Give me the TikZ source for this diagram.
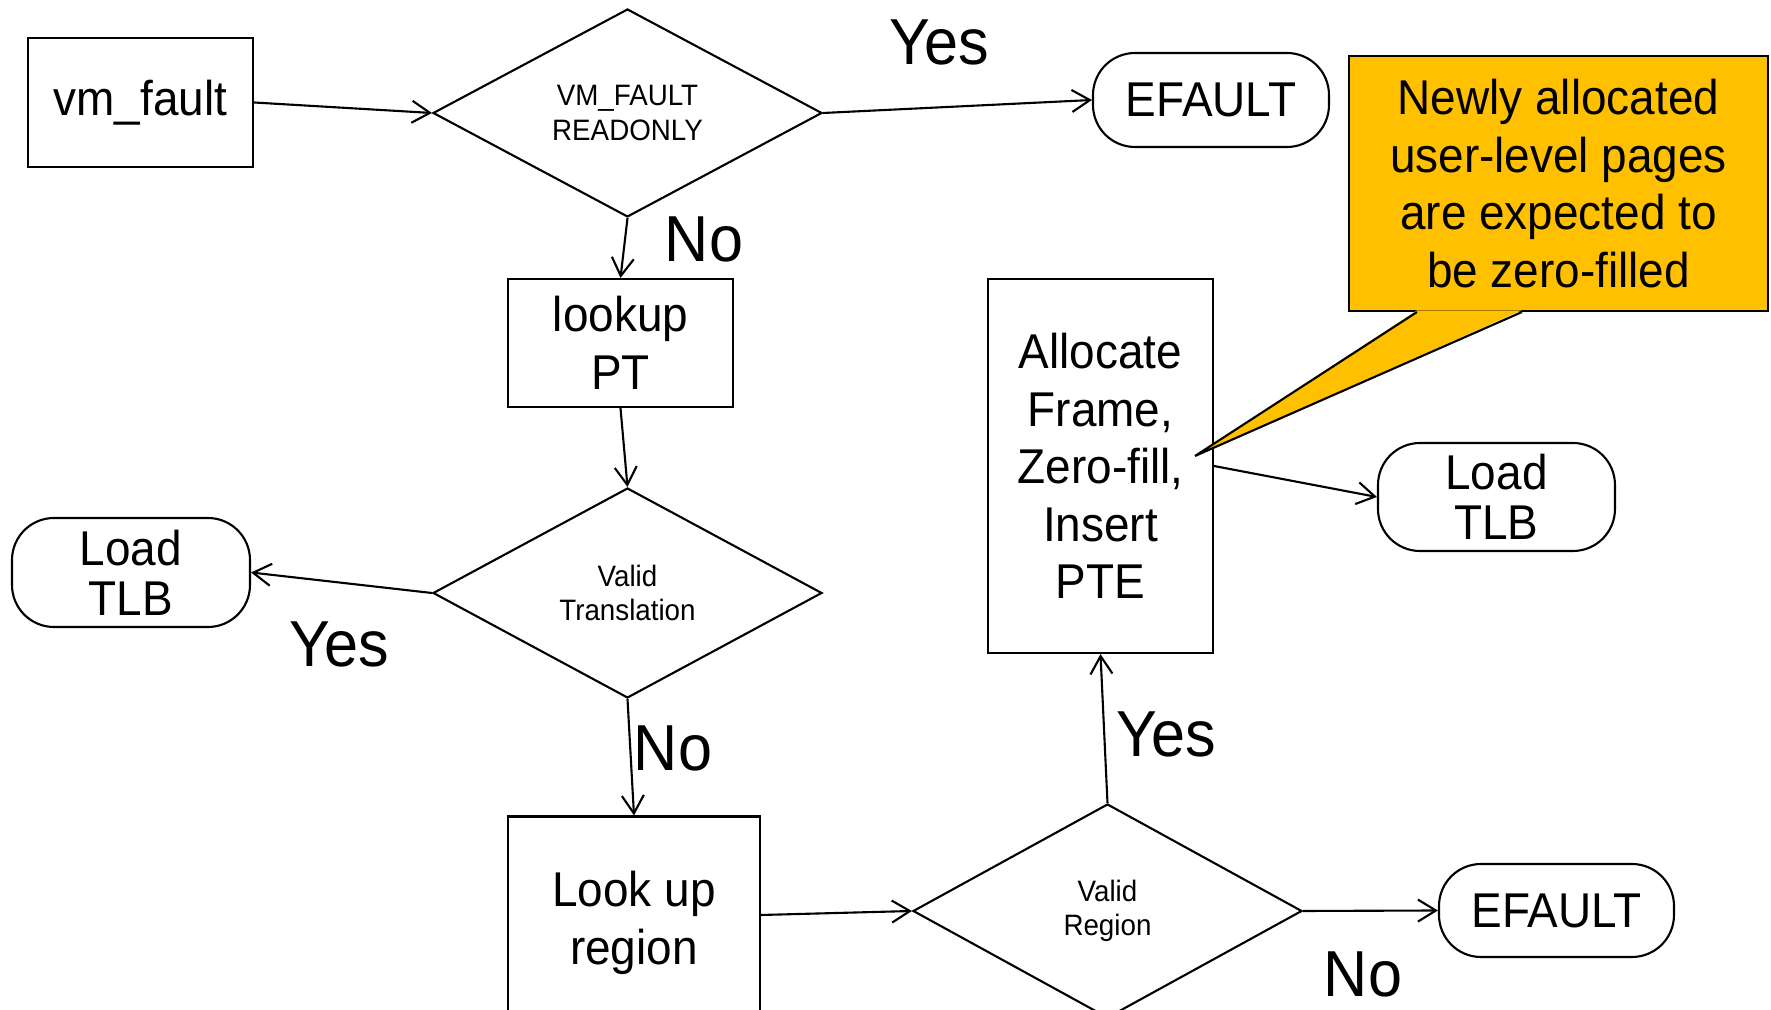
\documentclass[tikz,border=0pt]{standalone}
\usepackage{fontspec}
\setmainfont[FakeStretch=0.94]{Liberation Sans}
\usepackage{tikz}
\usetikzlibrary{shapes.geometric, arrows.meta}

\definecolor{notegold}{HTML}{FFC000}

\tikzset{
	box/.style={draw, line width=0.6pt, align=center, inner sep=0pt, font=\fontsize{13.9}{16.4}\selectfont},
	term/.style={draw, line width=0.6pt, rounded corners=0.42cm, align=center, inner sep=0pt, font=\fontsize{13.9}{14.2}\selectfont},
	decide/.style={draw, diamond, aspect=1.87, line width=0.6pt, align=center, inner sep=0pt, minimum width=3.89cm, minimum height=2.08cm, font=\fontsize{8.4}{9.7}\selectfont},
	answer/.style={inner sep=0pt, font=\fontsize{18.5}{22}\selectfont},
	flow/.style={line width=0.6pt, -{Straight Barb[length=1.8mm,width=2.2mm]}}
}

\begin{document}
\begin{tikzpicture}
	\useasboundingbox (0,0) rectangle (17.71,10.10);
	\clip (0,0) rectangle (17.71,10.10);

	\node[box, minimum width=2.25cm, minimum height=1.29cm] (vmfault) at (1.405,9.075) {vm\_fault};
	\node[decide] (ro) at (6.275,8.97) {VM\_FAULT\\READONLY};
	\node[term, minimum width=2.36cm, minimum height=0.94cm] (efaulttop) at (12.11,9.10) {EFAULT};
	\node[box, minimum width=2.25cm, minimum height=1.28cm] (lookpt) at (6.205,6.67) {lookup\\PT};
	\node[decide, minimum height=2.10cm] (validtr) at (6.275,4.17) {Valid\\Translation};
	\node[term, minimum width=2.38cm, minimum height=1.09cm] (tlbleft) at (1.31,4.375) {Load\\TLB};
	\node[box, minimum width=2.52cm, minimum height=2.13cm] (lookreg) at (6.34,0.87) {Look up\\region};
	\node[decide, minimum height=2.14cm] (validrg) at (11.075,0.99) {Valid\\Region};
	\node[term, minimum width=2.35cm, minimum height=0.93cm] (efaultbot) at (15.565,0.995) {EFAULT};
	\node[box, minimum width=2.25cm, minimum height=3.74cm] (alloc) at (11.005,5.44) {Allocate\\Frame,\\Zero-fill,\\Insert\\PTE};
	\node[term, minimum width=2.37cm, minimum height=1.08cm] (tlbright) at (14.965,5.13) {Load\\TLB};

	% yes / no
	\node[answer] (yestop) at (9.39,9.68) {Yes};
	\node[answer] (notop) at (7.04,7.71) {No};
	\node[answer] (yesleft) at (3.39,3.66) {Yes};
	\node[answer] (nomid) at (6.73,2.62) {No};
	\node[answer] (yesright) at (11.66,2.76) {Yes};
	\node[answer] (nobot) at (13.63,0.36) {No};

	\draw[flow] (vmfault.east) -- (ro.west);
	\draw[flow] (ro.east) -- (efaulttop.west);		%yes
	\draw[flow] (ro.south) -- (lookpt.north);		%no
	\draw[flow] (lookpt.south) -- (validtr.north);
	\draw[flow] (validtr.west) -- (tlbleft.east);	%yes
	\draw[flow] (validtr.south) -- (lookreg.north);	%no
	\draw[flow] ([yshift=0.08cm]lookreg.east) -- (validrg.west);
	\draw[flow] (validrg.north) -- (alloc.south);	%yes
	\draw[flow] (validrg.east) -- (efaultbot.west);	%no
	\draw[flow] (alloc.east) -- (tlbright.west);

	% callout
	\node[draw, line width=0.6pt, fill=notegold, align=center, inner sep=0pt, minimum width=4.19cm, minimum height=2.55cm, font=\fontsize{13.9}{16.4}\selectfont] (note) at (15.585,8.265) {Newly allocated\\user-level pages\\are expected to\\be zero-filled};
	\coordinate (tip) at (11.95,5.54);
	\fill[notegold] ([xshift=0.69cm,yshift=0.5pt]note.south west) -- (tip) -- ([xshift=1.74cm,yshift=0.5pt]note.south west) -- cycle;
	\draw[line width=0.6pt] ([xshift=0.69cm]note.south west) -- (tip) -- ([xshift=1.74cm]note.south west);
\end{tikzpicture}
\end{document}
